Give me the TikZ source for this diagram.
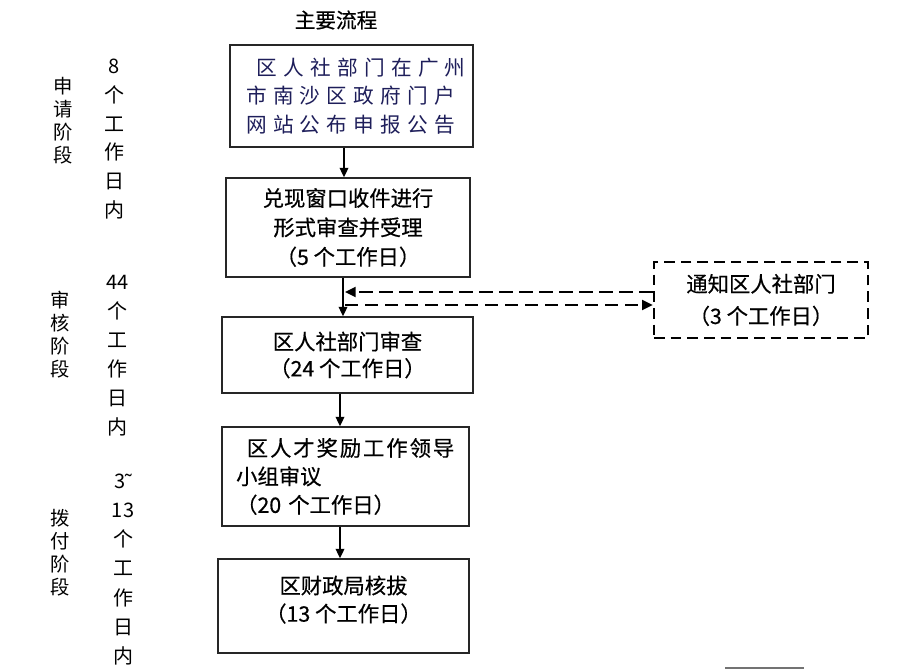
\documentclass[tikz,border=0pt]{standalone}
\usepackage{fontspec}
\setmainfont{Noto Sans CJK SC}
\newfontfamily\cjkwide[LetterSpace=30]{Noto Sans CJK SC}
\newfontfamily\cjkbold[FakeBold=0.5]{Noto Sans CJK SC}
\newfontfamily\cjkboldwide[FakeBold=0.5,LetterSpace=9]{Noto Sans CJK SC}
\newfontfamily\latinfont{Liberation Sans}
\usepackage{xcolor}
\usetikzlibrary{shapes,arrows,positioning,calc,arrows.meta}
\definecolor{navytext}{HTML}{1E1E5A}

\begin{document}
\begin{tikzpicture}[x=0.75pt,y=-0.75pt,
    box/.style={draw=black!85, line width=1.2pt, inner xsep=6pt, align=center,
        font=\cjkbold\fontsize{16}{22}\selectfont},
    notebox/.style={draw, line width=1.8pt, dash pattern=on 8pt off 4.5pt, align=center,
        minimum width=160.5pt, minimum height=57pt, font=\cjkbold\fontsize{16}{24}\selectfont},
    flow/.style={-{Triangle[length=7pt,width=6.5pt]}, line width=1.1pt},
    back/.style={-{Triangle[length=8pt,width=7.5pt]}, line width=1.5pt, dash pattern=on 10pt off 5pt},
    stage/.style={align=center, inner sep=0pt, font=\fontsize{14.5}{17.3}\selectfont},
    days/.style={align=center, inner sep=0pt, font=\fontsize{15}{21.6}\selectfont}]
    \useasboundingbox (0,0) rectangle (921,670);

    \node[font=\cjkbold\fontsize{15.5}{18}\selectfont] (title) at (336,20) {主要流程};

    % Main flow boxes
    \node[box, minimum width=182.25pt, minimum height=76.5pt, text width=158pt, align=left,
        text=navytext, font=\cjkwide\fontsize{15.5}{21.4}\selectfont]
        (notice) at (351.5,96) {\hspace*{8pt}区人社部门在广州\\市南沙区政府门户\\网站公布申报公告};
    \node[box, minimum width=183pt, minimum height=74.25pt] (accept) at (348,227.5)
        {兑现窗口收件进行\\形式审查并受理\\（5 个工作日）};
    \node[box, minimum width=188.25pt, minimum height=57pt, font=\cjkbold\fontsize{16}{20}\selectfont]
        (review) at (347.5,355) {区人社部门审查\\（24 个工作日）};
    \node[box, minimum width=185.25pt, minimum height=74.25pt, text width=164pt, align=left,
        font=\cjkbold\fontsize{16}{21.3}\selectfont]
        (panel) at (345.5,476.5) {\hspace*{8pt}{\cjkboldwide 区人才奖励工作领导}\\小组审议\\（20 个工作日）};
    \node[box, minimum width=188.25pt, minimum height=70.5pt, font=\cjkbold\fontsize{16}{21}\selectfont]
        (fund) at (343.5,606) {区财政局核拔\\（13 个工作日）\\[-10pt]};

    % Notify box
    \node[notebox] (notify) at (761,300) {通知区人社部门\\（3 个工作日）};

    % Stage labels
    \node[stage] (applyS) at (63,121) {申\\请\\阶\\段};
    \node[days] (applyD) at (114,139) {8\\个\\工\\作\\日\\内};
    \node[stage] (checkS) at (60,335) {审\\核\\阶\\段};
    \node[days, font=\fontsize{15}{21.75}\selectfont] (checkD) at (117.5,355.5) {44\\个\\工\\作\\日\\内};
    \node[stage] (payS) at (60,553) {拨\\付\\阶\\段};
    \node[days, font=\fontsize{15}{21.9}\selectfont] (payD) at (123,569.5) {3{\latinfont ˜}\\13\\个\\工\\作\\日\\内};

    % Arrows
    \coordinate (s1) at (344,0);
    \coordinate (s2) at (343,0);
    \coordinate (s3) at (340,0);
    \draw[flow] (notice.south -| s1) -- (accept.north -| s1);
    \draw[flow] (accept.south -| s2) -- (review.north -| s2);
    \draw[flow] (review.south -| s3) -- (panel.north -| s3);
    \draw[flow] (panel.south -| s3) -- (fund.north -| s3);

    % Dashed loop to notify box
    \coordinate (r1) at (345,292);
    \coordinate (r2) at (345,305);
    \draw[back] (notify.west |- r1) -- (r1);
    \draw[back] (r2) -- (notify.west |- r2);

    \draw[black!55, line width=1.1pt] (725,668) -- (804,668);
\end{tikzpicture}
\end{document}
